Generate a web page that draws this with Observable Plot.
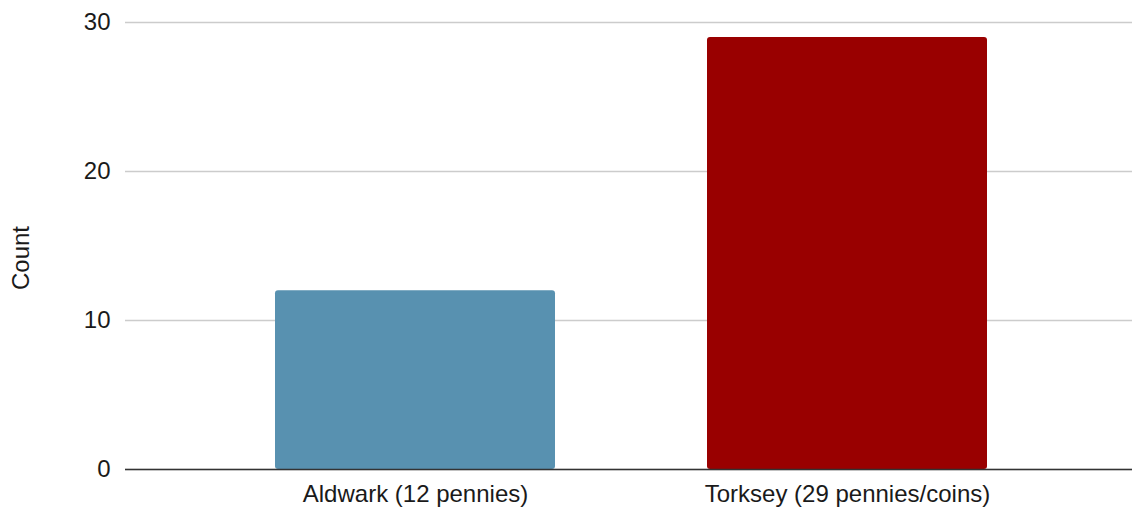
<!DOCTYPE html>
<html>
<head>
<meta charset="utf-8">
<script src="https://cdn.jsdelivr.net/npm/d3@7"></script>
<script src="https://cdn.jsdelivr.net/npm/@observablehq/plot@0.6"></script>
<style>
  html, body { margin: 0; padding: 0; background: #fff; }
  #chart { width: 1132px; height: 509px; }
</style>
</head>
<body>
<div id="chart"></div>
<script>
const categories = ["Aldwark (12 pennies)", "Torksey (29 pennies/coins)"];
const counts = [12, 29];
const barColors = ["#5891b0", "#990000"];
const yTicks = [0, 10, 20, 30];
const yLabel = "Count";

const data = categories.map((c, i) => ({ category: c, count: counts[i] }));

const chart = Plot.plot({
  width: 1132,
  height: 509,
  marginLeft: 125,
  marginRight: 0,
  marginTop: 22,
  marginBottom: 40,
  style: { fontFamily: "'Liberation Sans', Arial, sans-serif", fontSize: "24px", color: "#1a1a1a", background: "#fff" },
  x: { domain: categories, paddingInner: 0.352, paddingOuter: 0.341, align: 0.507, label: null, tickSize: 0, tickPadding: 15 },
  y: { domain: [0, 30], ticks: yTicks, label: null, tickSize: 0, tickPadding: 15, grid: false },
  color: { domain: categories, range: barColors },
  marks: [
    Plot.gridY(yTicks, { stroke: "#cccccc", strokeOpacity: 1, strokeWidth: 1.3 }),
    Plot.barY(data, { x: "category", y: "count", fill: "category", rx: 3 }),
    Plot.ruleY([0], { stroke: "#333333", strokeWidth: 1.5 }),
    Plot.text([yLabel], { frameAnchor: "left", textAnchor: "middle", rotate: -90, dx: -104, dy: 12, fill: "#1a1a1a", fontSize: 24 })
  ]
});
document.getElementById("chart").appendChild(chart);
</script>
</body>
</html>
